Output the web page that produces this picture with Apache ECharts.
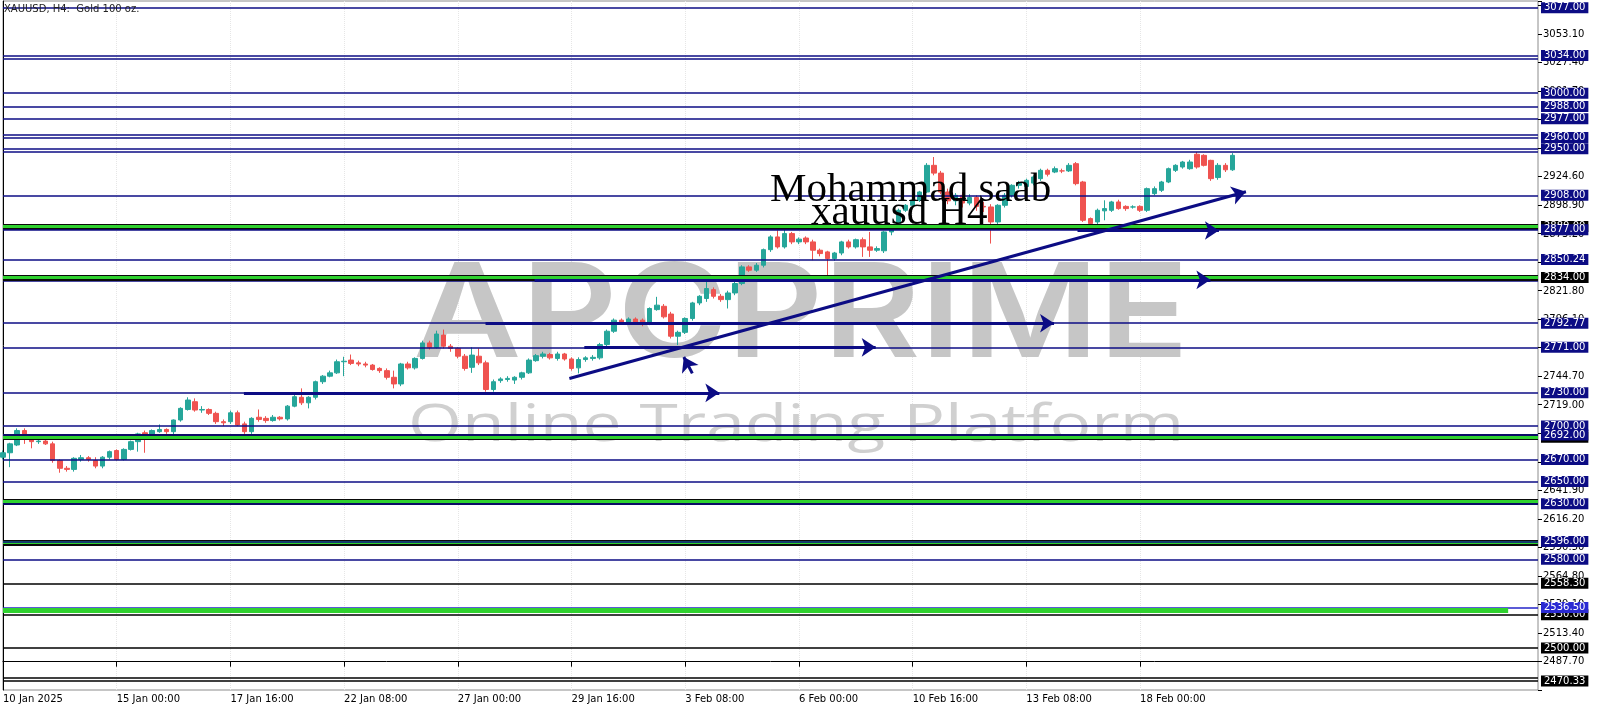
<!DOCTYPE html>
<html><head><meta charset="utf-8">
<script src="https://cdn.jsdelivr.net/npm/echarts@6/dist/echarts.min.js"></script>
<style>html,body{margin:0;padding:0;background:#fff}#c{width:1600px;height:711px}</style>
</head><body><div id="c"></div>
<script>
// ---------- data ----------
const xTickLabels = ['10 Jan 2025','15 Jan 00:00','17 Jan 16:00','22 Jan 08:00','27 Jan 00:00','29 Jan 16:00','3 Feb 08:00','6 Feb 00:00','10 Feb 16:00','13 Feb 08:00','18 Feb 00:00'];
const barsPerLabel = 16;
const slotCount = 217;
const yTickValues = [2487.70,2513.40,2539.10,2564.80,2590.50,2616.20,2641.90,2667.60,2693.30,2719.00,2744.70,2770.40,2796.10,2821.80,2847.50,2873.20,2898.90,2924.60,2950.30,2976.00,3001.70,3027.40,3053.10];
const yTickStep = 25.70;
const yRange = [2462.2, 3083.1];
// [open, close, low, high]
const candles = [
[2672,2676,2670,2678],[2676,2684,2663,2685],[2683,2696,2682,2698],[2696,2689,2684,2698],[2688,2686,2680,2689],
[2686,2686.5,2684,2688],[2686.5,2684,2683,2688],[2684,2669,2667,2686],[2669,2662,2658,2670],[2662,2661,2659,2664],
[2661,2671,2659,2672],[2670,2671.5,2668,2674],[2671.5,2670,2668,2673],[2669,2664,2662,2672],[2664,2672,2662,2673],
[2672,2677,2670,2678],[2678,2670,2669,2679],[2670,2679,2669,2680],[2679,2686,2678,2687],[2686,2693,2677,2694],
[2694,2692,2676,2696],[2692,2696,2691,2697],[2695,2697,2694,2701.5],[2697,2695,2693,2698],[2695,2705.5,2692,2706],
[2705.5,2716,2704,2717],[2715,2723.5,2714,2726],[2722,2714.5,2713,2725],[2714.5,2715,2712,2718],[2715,2711.5,2710,2716],
[2711.5,2704,2702,2713],[2704,2703,2700,2706],[2704,2712,2702,2714],[2712,2701,2700,2714],[2702,2695,2693,2704],
[2695,2707,2693,2708],[2708,2706,2704,2715],[2707,2705,2703,2709],[2705,2708,2704,2710],[2708,2706.5,2705,2709],
[2706.5,2718,2705,2719],[2718,2726.5,2717,2728],[2726,2721,2719,2734],[2721,2726,2716,2727],[2726,2740,2724,2741],
[2740,2745,2738,2746],[2745,2748,2744,2750],[2748,2758,2747,2760],[2758,2758.5,2745,2762.5],[2759.5,2756.5,2755,2764.5],
[2757,2756,2754,2759],[2756,2755,2753,2758],[2755,2751,2750,2756],[2752,2750,2748,2753],[2750,2744,2742,2752],
[2744,2738,2734,2750],[2738,2756,2736,2757],[2756,2752.5,2751,2758],[2752.5,2761,2751,2762],[2761,2775,2760,2777],
[2775,2771,2769,2777],[2771,2783,2770,2786],[2782,2772,2770,2787],[2772,2770,2767,2774],[2770,2763,2761,2771],
[2763,2752,2750,2765],[2753,2764,2748,2771],[2763,2757,2755,2770],[2757,2733,2731,2759],[2733,2740,2731,2742],
[2741,2742.5,2739,2744],[2742,2743,2740,2745],[2741.5,2744,2738,2745],[2744,2748,2742,2749],[2748,2759.5,2747,2761],
[2759,2763.5,2758,2765],[2763,2765,2761,2767],[2764.5,2761.5,2760,2766],[2761,2765,2759,2767],[2765,2760.5,2759,2766],
[2760.5,2752,2750,2762],[2752.5,2760,2747.5,2762],[2760,2761.5,2758,2763],[2761,2762,2759,2764],[2761.5,2773.5,2760,2775],
[2773.5,2785.5,2772,2787],[2785.5,2795.5,2784,2797],[2795.5,2793.5,2792,2797],[2793.5,2796.5,2792,2798],[2796.5,2793.5,2792,2798],
[2795.5,2792,2790,2797],[2792.5,2806,2791,2807],[2805,2809,2804,2816.5],[2808,2798.5,2797,2810],[2801,2781,2779,2803],
[2781,2784.5,2773,2786],[2784.5,2797,2783,2798],[2797,2811,2795,2812],[2811,2817,2809,2818],[2815,2824,2812,2830],
[2823,2817,2815,2825],[2817,2814,2812,2819],[2814,2820,2806,2822],[2820,2828.5,2818,2830],[2828.5,2843.5,2827,2845],
[2843.5,2840.5,2839,2845],[2840.5,2845,2839,2847],[2845,2859,2843,2860],[2859,2870.5,2857,2872],[2870.5,2861.5,2860,2876.5],
[2861.5,2873.5,2860,2881],[2873.5,2866,2864,2875],[2866,2868.5,2864,2870],[2869.5,2866,2864,2871],[2866,2858.5,2849.5,2868],
[2858.5,2855.5,2853,2860],[2857,2851,2834.5,2858],[2851,2856,2849,2857],[2856,2866,2854,2867],[2866,2861.5,2860,2868],
[2861.5,2868,2860,2869],[2868,2861.5,2852.5,2870],[2861.5,2858.5,2852.5,2875],[2858.5,2860,2857,2862],[2858,2875,2856,2876],
[2875,2878,2872,2880],[2878,2894.5,2877,2896],[2894.5,2899,2893,2900],[2899,2903.5,2897,2905],[2903.5,2911,2902,2912],
[2911,2935,2910,2937],[2935,2928,2926,2942.5],[2928,2911,2909,2930],[2911,2903,2900,2914],[2903,2908,2899,2910],
[2908,2901,2897,2911],[2901,2906,2899,2909],[2906,2898,2894,2908],[2898,2897.5,2893,2902],[2897.5,2884,2864.5,2900],
[2884,2899,2882,2900],[2899,2908,2897,2910],[2908,2917,2906,2918],[2917,2919,2914,2921],[2916,2921.5,2914,2923],
[2919,2924.5,2917,2926],[2923,2930.5,2921,2932],[2930.5,2927,2925,2932],[2929,2932,2928,2934],[2930,2930,2928,2932],
[2930,2935,2929,2937],[2936.5,2918.5,2917,2938],[2920,2885.5,2884,2921],[2887,2882.5,2881,2888],[2884,2894.5,2882,2896],
[2894,2896,2885.5,2903.5],[2894.5,2902,2893,2903],[2902,2896,2895,2904],[2898,2896,2894,2899],[2897.5,2897.5,2896,2899],
[2898,2894.5,2893,2899],[2894.5,2914,2893,2915],[2909.5,2914,2908,2916],[2912.5,2920,2911,2921],[2920,2932,2919,2933],
[2930.5,2935,2929,2936],[2933.5,2938,2932,2939],[2932,2938,2931,2940],[2945,2933.5,2932,2947],[2944,2935,2934,2945],
[2939.5,2923,2921,2940],[2924,2935,2922,2937],[2935,2931,2929,2937],[2931,2944,2930,2946]
];
// horizontal levels (price)
const navyLevels = [3077.00,3034.00,3000.00,2988.00,2977.00,2960.00,2950.00,2908.00,2877.00,2850.24,2792.77,2771.00,2730.00,2700.00,2692.00,2670.00,2650.00,2630.00,2596.00,2580.00];
const navyPlainLevels = [3031.00,2962.50,2947.30,2831.00];
const blackLevels = [2558.30,2530.00,2500.00,2470.33];
const blackPlainLevels = [2473.00];
const greenBandLevels = [2880.00,2834.00,2690.00,2632.00,2595.00];
const greenBandLabelled = [2880.00,2834.00,2690.00];
const blueLevel = 2536.50;
const wideBand = {from:0, to:211.8, price:2533.8};
// trend arrows: [[x0,p0],[x1,p1]] in bar index / price
const arrows = [
 [[33.9,2730.0],[100.8,2730.0]],
 [[81.8,2771.0],[122.8,2771.0]],
 [[67.9,2792.7],[147.9,2792.7]],
 [[74.8,2831.8],[169.9,2831.8]],
 [[151.2,2876.3],[171.1,2876.3]],
 [[79.7,2742.9],[174.9,2911.2]],
 [[97.0,2747.5],[95.8,2762.3]]
];

// ---------- chart ----------
const NAVY = '#0c0c84', GREEN = '#2fd12f';
const chart = echarts.init(document.getElementById('c'), null, {renderer:'canvas'});
const cats = Array.from({length: slotCount}, (_, i) => String(i));
const isLabelIdx = i => i % barsPerLabel === 0 && i / barsPerLabel < xTickLabels.length;
const FONT = 'DejaVu Sans';
function boxLabel(text, bg){
  return {show:true, position:'end', distance:3, formatter:text, backgroundColor:bg, color:'#fff',
    fontFamily:FONT, fontSize:10, lineHeight:11, padding:[0,3,0,3]};
}
const levelLines = [];
navyPlainLevels.forEach(p => levelLines.push({yAxis:p, lineStyle:{color:NAVY,width:1.6,type:'solid'}, label:{show:false}}));
blackPlainLevels.forEach(p => levelLines.push({yAxis:p, lineStyle:{color:'#000',width:1.6,type:'solid'}, label:{show:false}}));
greenBandLevels.forEach(p => {
  levelLines.push({yAxis:p, lineStyle:{color:'#0a0a0a',width:6,type:'solid'},
    label: greenBandLabelled.includes(p) ? boxLabel(p.toFixed(2), '#000') : {show:false}});
  levelLines.push({yAxis:p, lineStyle:{color:GREEN,width:3,type:'solid'}, label:{show:false}});
});
blackLevels.forEach(p => levelLines.push({yAxis:p, lineStyle:{color:'#000',width:1.6,type:'solid'}, label:boxLabel(p.toFixed(2),'#000')}));
navyLevels.forEach(p => levelLines.push({yAxis:p, lineStyle:{color:NAVY,width:1.6,type:'solid'}, label:boxLabel(p.toFixed(2),NAVY)}));
levelLines.push({yAxis:2834.00, lineStyle:{color:GREEN,width:3,type:'solid'}, label:boxLabel('2834.00','#000')});
levelLines.push({yAxis:blueLevel, lineStyle:{color:'#2424c8',width:1.6,type:'solid'}, label:boxLabel(blueLevel.toFixed(2),'#2a2ad2')});

const arrowLines = arrows.map(a => [{coord:a[0]},{coord:a[1]}]);
arrowLines.unshift([{coord:[wideBand.from, wideBand.price], lineStyle:{color:GREEN,width:5}, symbol:'none'},
                    {coord:[wideBand.to, wideBand.price], symbol:'none'}]);

const txtW = (t, font) => { const c = document.createElement('canvas').getContext('2d'); c.font = font; return c.measureText(t).width; };
const wmFont1 = '600 130px Inter';
const wmFont2 = '52px "Open Sans"';
const wm1Scale = 776 / txtW('APCPRIME', wmFont1);
const wm2Scale = 776 / txtW('Online Trading Platform', wmFont2);
const tIdx = p => (p - yTickValues[0]) / yTickStep;

chart.setOption({
  animation:false,
  backgroundColor:'#ffffff',
  grid:{left:2, right:62, top:1, bottom:21, show:true, borderColor:'#8c8c8c', borderWidth:1, containLabel:false},
  xAxis:[{
    type:'category', data:cats, boundaryGap:false,
    axisLine:{show:true, lineStyle:{color:'#000', width:1}},
    axisTick:{show:true, interval:(i)=>isLabelIdx(i), length:5, lineStyle:{color:'#000'}},
    axisLabel:{interval:(i)=>isLabelIdx(i), formatter:(v)=>xTickLabels[Number(v)/barsPerLabel], align:'left',
      color:'#000', fontFamily:FONT, fontSize:10, margin:4},
    splitLine:{show:true, interval:(i)=>isLabelIdx(i), lineStyle:{color:'#e6e6e6', type:'dotted', width:1}}
  },{
    type:'value', min:0, max:slotCount-1, show:false
  }],
  yAxis:[{
    type:'value', position:'right', min:yRange[0], max:yRange[1],
    axisLine:{show:true, lineStyle:{color:'#000', width:1}},
    axisTick:{show:false},
    axisLabel:{customValues:yTickValues, formatter:(v)=>Number(v).toFixed(2), color:'#000', fontFamily:FONT, fontSize:10, margin:5},
    splitLine:{show:false}
  },{
    type:'value', position:'right', min:tIdx(yRange[0]), max:tIdx(yRange[1]), interval:1,
    axisLine:{show:false}, axisLabel:{show:false}, splitLine:{show:false},
    axisTick:{show:true, length:4, lineStyle:{color:'#000'}}
  }],
  graphic:[
    {type:'text', z:1, x:801, y:318, scaleX:wm1Scale, originX:0, originY:0,
      style:{text:'APCPRIME', font:wmFont1, fill:'#c6c6c6', align:'center', verticalAlign:'middle'}},
    {type:'text', z:1, x:796, y:426, scaleX:wm2Scale, originX:0, originY:0,
      style:{text:'Online Trading Platform', font:wmFont2, fill:'#d0d0d0', align:'center', verticalAlign:'middle'}},
    {type:'text', z:100, x:770, y:190,
      style:{text:'Mohammad saab', font:'41px "Liberation Serif"', fill:'#000', align:'left', verticalAlign:'middle'}},
    {type:'text', z:100, x:811, y:213,
      style:{text:'xauusd H4', font:'41px "Liberation Serif"', fill:'#000', align:'left', verticalAlign:'middle'}},
    {type:'text', z:100, x:4, y:9,
      style:{text:'XAUUSD, H4:  Gold 100 oz.', font:'10px "DejaVu Sans"', fill:'#222', align:'left', verticalAlign:'middle'}}
  ],
  series:[{
    type:'candlestick', data:candles, barWidth:5, silent:true,
    itemStyle:{color:'#26a69a', color0:'#ef5350', borderColor:'#26a69a', borderColor0:'#ef5350', borderWidth:1},
    markLine:{silent:true, symbol:'none', animation:false, data:levelLines}
  },{
    type:'line', xAxisIndex:1, data:[[0,2700],[1,2700]], showSymbol:false, silent:true,
    lineStyle:{opacity:0}, z:3,
    markLine:{silent:true, symbol:['none','arrow'], symbolSize:14, animation:false,
      label:{show:false}, lineStyle:{color:NAVY, width:3, type:'solid'}, data:arrowLines}
  }]
});
</script></body></html>
